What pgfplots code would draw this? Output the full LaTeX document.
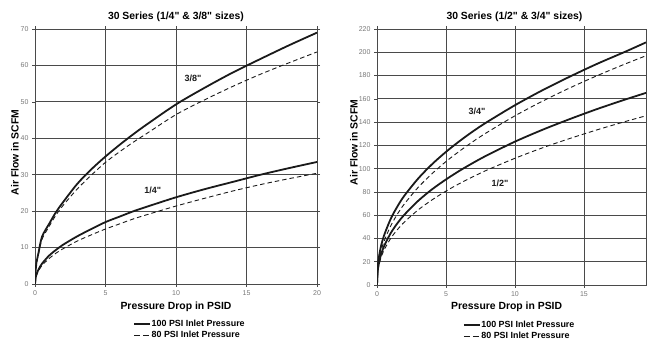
\documentclass[border=0pt]{standalone}
\usepackage{pgfplots}
\pgfplotsset{compat=1.18}
\usepackage{fontspec}
\setmainfont{Liberation Sans}[Ligatures=TeXOff]
\definecolor{gridc}{HTML}{4A4A4A}
\definecolor{tickc}{HTML}{777777}
\definecolor{curve}{HTML}{1A1A1A}
\pgfplotsset{
  chartbase/.style={
    scale only axis,
    anchor=south west,
    axis line style={gridc, line width=0.8pt},
    grid=major,
    major grid style={gridc, line width=0.75pt},
    tick align=outside,
    major tick length=3pt,
    tick style={gridc, line width=0.6pt},
    /pgf/number format/assume math mode=true,
    ticklabel style={font=\fontsize{7}{8}\selectfont, text=tickc},
    every axis title shift=0pt,
    title style={font=\bfseries\fontsize{10.4}{12}\selectfont},
    label style={font=\bfseries\fontsize{10.4}{12}\selectfont},
    legend style={draw=none, fill=none, anchor=north west, inner sep=0pt,
      font=\bfseries\fontsize{8.9}{10}\selectfont, row sep=1.8pt,
      nodes={inner sep=0.5pt, text height=6.5pt, text depth=1.8pt}},
    legend cell align=left,
    legend image code/.code={\draw[#1] (0pt,0pt) -- (16pt,0pt);},
    hundred/.style={curve, line width=1.8pt},
    eighty/.style={curve, line width=0.9pt, dash pattern=on 4.5pt off 3pt},
    hundredleg/.style={legend image code/.code={\draw[curve, line width=2pt] (0pt,0pt) -- (16pt,0pt);}},
    eightyleg/.style={legend image code/.code={\draw[curve, line width=0.9pt, dash pattern=on 6pt off 3pt] (0pt,0pt) -- (15pt,0pt);}},
  }
}
\begin{document}
\begin{tikzpicture}
\useasboundingbox (0,0) rectangle (647pt,339pt);
% ---------------- left chart ----------------
\begin{axis}[chartbase,
  at={(35pt,55pt)}, width=282pt, height=255pt,
  xmin=0, xmax=20, ymin=0, ymax=70,
  xtick={0,5,10,15,20}, ytick={0,10,20,30,40,50,60,70},
  title={30 Series (1/4" \& 3/8" sizes)},
  title style={at={(axis description cs:0.5,1.048)}, anchor=center},
  xlabel={Pressure Drop in PSID},
  xlabel style={at={(axis description cs:0.5,-0.089)}, anchor=center},
  ylabel={Air Flow in SCFM},
  ylabel style={at={(axis description cs:-0.071,0.516)}, anchor=center},
  legend style={at={(axis description cs:0.3475,-0.139)}},
]
\addlegendimage{hundredleg}
\addlegendentry{100 PSI Inlet Pressure}
\addlegendimage{eightyleg}
\addlegendentry{80 PSI Inlet Pressure}
% 3/8" 100 PSI
\addplot[hundred, smooth, forget plot] coordinates {
(0,0)(0.05,4)(0.1,5.8)(0.25,8.6)(0.5,13.0)(1,16.5)(1.5,19.8)(2,22.5)(3,27.5)(4,31.5)(5,35)(6,38.2)(7,41.2)(8,44)(10,49.3)(12,53.8)(14,58)(16,61.8)(18,65.5)(20,69)};
% 3/8" 80 PSI
\addplot[eighty, smooth, forget plot] coordinates {
(0,0)(0.05,3.9)(0.1,5.6)(0.25,8.3)(0.5,12.3)(1,15.8)(1.5,19.0)(2,21.6)(3,26.1)(4,29.9)(5,33.4)(6,36.3)(7,39.0)(8,41.5)(10,46.5)(12,50.5)(14,54.2)(16,57.6)(18,60.7)(20,63.7)};
% 1/4" 100 PSI
\addplot[hundred, smooth, forget plot] coordinates {
(0,0)(0.05,1.8)(0.1,2.6)(0.25,4.0)(0.5,5.6)(1,7.8)(1.5,9.4)(2,10.8)(3,13.1)(4,15.1)(5,17)(6,18.5)(7,20)(8,21.3)(10,23.8)(12,26)(14,28)(16,30)(18,31.8)(20,33.5)};
% 1/4" 80 PSI
\addplot[eighty, smooth, forget plot] coordinates {
(0,0)(0.05,1.6)(0.1,2.3)(0.25,3.6)(0.5,5.1)(1,7.0)(1.5,8.5)(2,9.7)(3,11.8)(4,13.5)(5,15.1)(6,16.5)(7,17.9)(8,19.1)(10,21.4)(12,23.5)(14,25.5)(16,27.3)(18,28.9)(20,30.4)};
\node[font=\bfseries\fontsize{9}{10}\selectfont, text=curve] at (axis cs:11.2,56.4) {3/8"};
\node[font=\bfseries\fontsize{9}{10}\selectfont, text=curve] at (axis cs:8.35,25.6) {1/4"};
\end{axis}
% ---------------- right chart ----------------
\begin{axis}[chartbase,
  at={(377pt,54pt)}, width=269pt, height=256pt,
  xmin=0, xmax=19.5, ymin=0, ymax=220,
  xtick={0,5,10,15}, ytick={0,20,40,60,80,100,120,140,160,180,200,220},
  title={30 Series (1/2" \& 3/4" sizes)},
  title style={at={(axis description cs:0.511,1.047)}, anchor=center},
  xlabel={Pressure Drop in PSID},
  xlabel style={at={(axis description cs:0.482,-0.084)}, anchor=center},
  ylabel={Air Flow in SCFM},
  ylabel style={at={(axis description cs:-0.0855,0.557)}, anchor=center},
  legend style={at={(axis description cs:0.3186,-0.137)}},
]
\addlegendimage{hundredleg}
\addlegendentry{100 PSI Inlet Pressure}
\addlegendimage{eightyleg}
\addlegendentry{80 PSI Inlet Pressure}
% 3/4" 100 PSI
\addplot[hundred, smooth, forget plot] coordinates {
(0,0)(0.05,15.6)(0.1,21.0)(0.25,31.3)(0.5,42.2)(1,57)(1.5,67.9)(2,77.0)(3,91.7)(4,103.9)(5,114.4)(6,123.8)(7,132.4)(8,140.2)(10,154.5)(12,167.4)(14,179.2)(16,190.3)(18,200.5)(19.5,208.5)};
% 3/4" 80 PSI
\addplot[eighty, smooth, forget plot] coordinates {
(0,0)(0.05,13.0)(0.1,17.9)(0.25,27.1)(0.5,37.2)(1,51.0)(1.5,61.3)(2,69.9)(3,84.1)(4,95.8)(5,106.1)(6,115.2)(7,123.6)(8,131.3)(10,145.4)(12,158.0)(14,169.5)(16,180.1)(18,190.0)(19.5,197.0)};
% 1/2" 100 PSI
\addplot[hundred, smooth, forget plot] coordinates {
(0,0)(0.05,12.0)(0.1,16.2)(0.25,24.3)(0.5,33.0)(1,44.7)(1.5,53.4)(2,60.6)(3,72.5)(4,82.3)(5,90.7)(6,98.3)(7,105.2)(8,111.6)(10,123.2)(12,133.4)(14,142.7)(16,151.4)(18,159.4)(19.5,165.1)};
% 1/2" 80 PSI
\addplot[eighty, smooth, forget plot] coordinates {
(0,0)(0.05,11.0)(0.1,14.8)(0.25,22.1)(0.5,29.8)(1,40.2)(1.5,47.9)(2,54.3)(3,64.7)(4,73.2)(5,80.7)(6,87.3)(7,93.3)(8,98.9)(10,108.9)(12,117.9)(14,126.0)(16,133.5)(18,140.5)(19.5,145.4)};
\node[font=\bfseries\fontsize{9}{10}\selectfont, text=curve] at (axis cs:7.25,149) {3/4"};
\node[font=\bfseries\fontsize{9}{10}\selectfont, text=curve] at (axis cs:8.91,87.4) {1/2"};
\end{axis}
\end{tikzpicture}
\end{document}
